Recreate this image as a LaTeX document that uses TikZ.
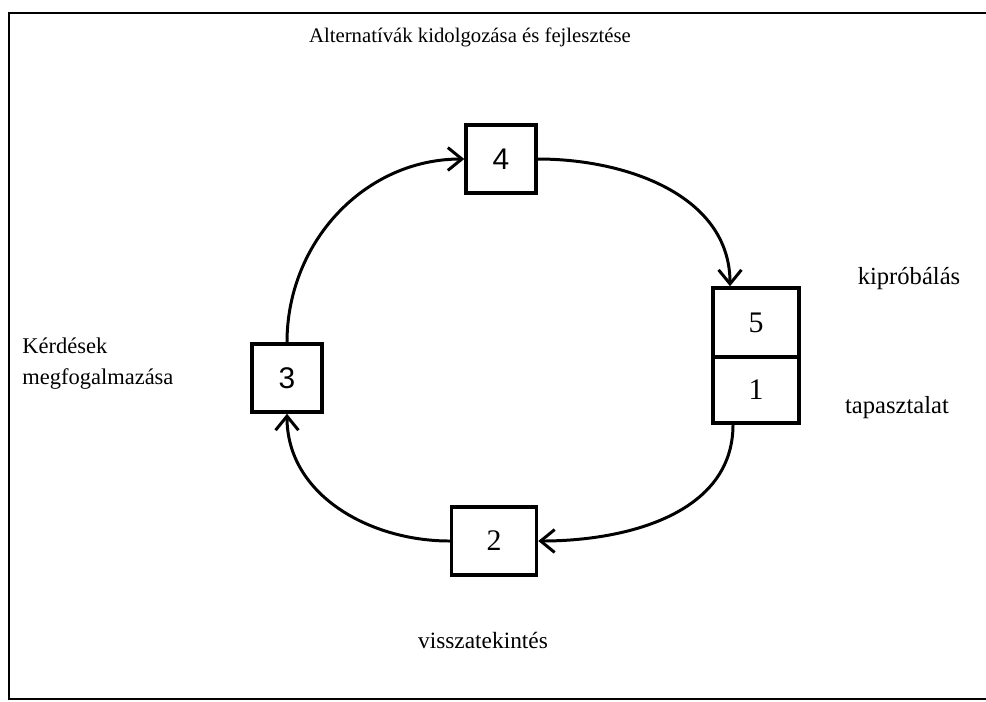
\documentclass[tikz,border=0pt]{standalone}
\usepackage{fontspec}
\setmainfont{Liberation Serif}
\newfontfamily\numsans{Liberation Sans}
\usetikzlibrary{arrows.meta}

\begin{document}
\begin{tikzpicture}[x=0.02cm, y=-0.02cm,
    box/.style={draw, line width=2pt, minimum width=1.4cm, minimum height=1.36cm, inner sep=0pt, font=\fontsize{17}{19}\selectfont},
    lbl/.style={inner sep=0pt, font=\fontsize{12.8}{17.6}\selectfont},
    flow/.style={line width=1.7pt, -{Straight Barb[length=8pt, width=13pt, line width=1.7pt]}}]
    \useasboundingbox (0,0) rectangle (986,701);
    \draw[line width=1.2pt] (986,13) -- (9,13) -- (9,699) -- (986,699);
    % the boxes
    \node[box] (n4) at (501,159) {\numsans 4};
    \node[box] (n3) at (287,378) {\numsans 3};
    \node[box, minimum width=1.7cm] (n2) at (494,541) {2};
    \node[box, minimum width=1.72cm, minimum height=1.38cm] (n5) at (756,322.5) {5};
    \node[box, minimum width=1.72cm, minimum height=1.32cm] (n1) at (756,390) {1};
    % the texts
    \node[lbl, font=\fontsize{11.8}{14}\selectfont] (title) at (470,37) {Alternatívák kidolgozása és fejlesztése};
    \node[lbl, font=\fontsize{14}{16}\selectfont] (try) at (909,279) {kipróbálás};
    \node[lbl, font=\fontsize{14}{16}\selectfont] (exp) at (897,408) {tapasztalat};
    \node[lbl, align=left, anchor=west] (ask) at (22,364) {Kérdések\\megfogalmazása};
    \node[lbl, font=\fontsize{13.3}{16}\selectfont] (back) at (483,640) {visszatekintés};
    % the cycle
    \draw[flow] (n3.north) to[out=90, in=180] (n4.west);
    \draw[flow] (n4.east) to[out=0, in=90] ([xshift=-0.52cm]n5.north);
    \draw[flow] ([xshift=-0.46cm]n1.south) to[out=-90, in=0] (n2.east);
    \draw[flow] (n2.west) to[out=180, in=-90] (n3.south);
\end{tikzpicture}
\end{document}
